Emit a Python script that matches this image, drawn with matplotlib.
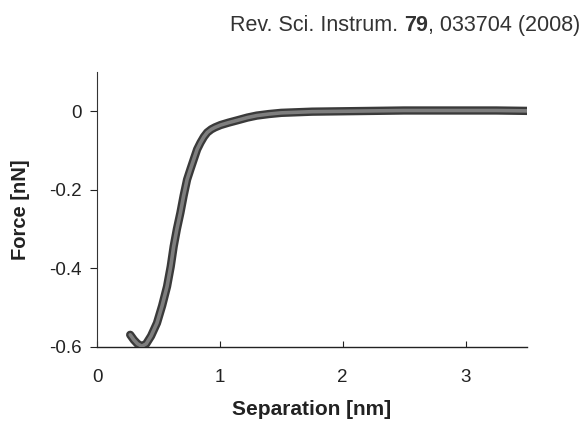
import matplotlib
matplotlib.use("Agg")
import matplotlib.pyplot as plt

plt.rcParams['font.family'] = ['Liberation Sans', 'DejaVu Sans']

separation = [0.27, 0.30, 0.33, 0.365, 0.40, 0.44, 0.488, 0.53, 0.57, 0.60,
              0.624, 0.65, 0.679, 0.705, 0.733, 0.76, 0.79, 0.815, 0.842, 0.87,
              0.897, 0.93, 0.96, 1.006, 1.07, 1.142, 1.224, 1.30, 1.40, 1.50,
              1.75, 2.0, 2.25, 2.5, 2.75, 3.0, 3.25, 3.5]
force = [-0.569, -0.582, -0.592, -0.598, -0.592, -0.572, -0.539, -0.495, -0.446, -0.395,
         -0.344, -0.300, -0.258, -0.215, -0.174, -0.148, -0.120, -0.097, -0.080, -0.065,
         -0.054, -0.046, -0.041, -0.035, -0.029, -0.023, -0.016, -0.011, -0.007, -0.004,
         -0.001, 0.0, 0.001, 0.002, 0.002, 0.002, 0.002, 0.001]

xticks = [0, 1, 2, 3]
yticks = [0, -0.2, -0.4, -0.6]
ytick_labels = ['0', '-0.2', '-0.4', '-0.6']

fig = plt.figure(figsize=(5.82, 4.21), dpi=100)
ax = fig.add_axes([0.1667, 0.1758, 0.7388, 0.6532])

ax.plot(separation, force, color='#3a3a3a', lw=6, solid_capstyle='round', zorder=3)
ax.plot(separation, force, color='#7e7e7e', lw=2.6, solid_capstyle='round', zorder=4)

ax.set_xlim(0, 3.5)
ax.set_ylim(-0.6, 0.1)
ax.set_xticks(xticks)
ax.set_yticks(yticks)
ax.set_yticklabels(ytick_labels)

for s in ['top', 'right']:
    ax.spines[s].set_visible(False)
ax.spines['left'].set_linewidth(0.8)
ax.spines['bottom'].set_linewidth(1.0)
ax.spines['left'].set_color('#333333')
ax.spines['bottom'].set_color('#222222')

ax.tick_params(axis='x', direction='in', length=4, width=0.8, labelsize=13.5, pad=16, colors='#222222')
ax.tick_params(axis='y', direction='out', length=5, width=0.8, labelsize=13.5, pad=6, colors='#222222')

ax.set_xlabel('Separation [nm]', fontsize=15, fontweight='bold', labelpad=10, color='#222222')
ax.set_ylabel('Force [nN]', fontsize=14.5, fontweight='bold', labelpad=14, color='#222222')

# title assembled from parts to show bold volume number, right-aligned
fs = 15.5
y_base = 0.926
fig.canvas.draw()
r = fig.canvas.get_renderer()
parts = [('Rev. Sci. Instrum. ', 'normal'), ('79', 'bold'), (', 033704 (2008)', 'normal')]
texts = []
x = 0.0
for s, w in parts:
    t = fig.text(x, y_base, s, fontsize=fs, fontweight=w, ha='left', va='baseline', color='#333333')
    bb = t.get_window_extent(renderer=r)
    texts.append((t, bb.width / fig.bbox.width))
    x += bb.width / fig.bbox.width
total = x
start = 0.9966 - total
x = start
for t, w in texts:
    t.set_x(x)
    x += w

fig.savefig('out.png', dpi=100)
